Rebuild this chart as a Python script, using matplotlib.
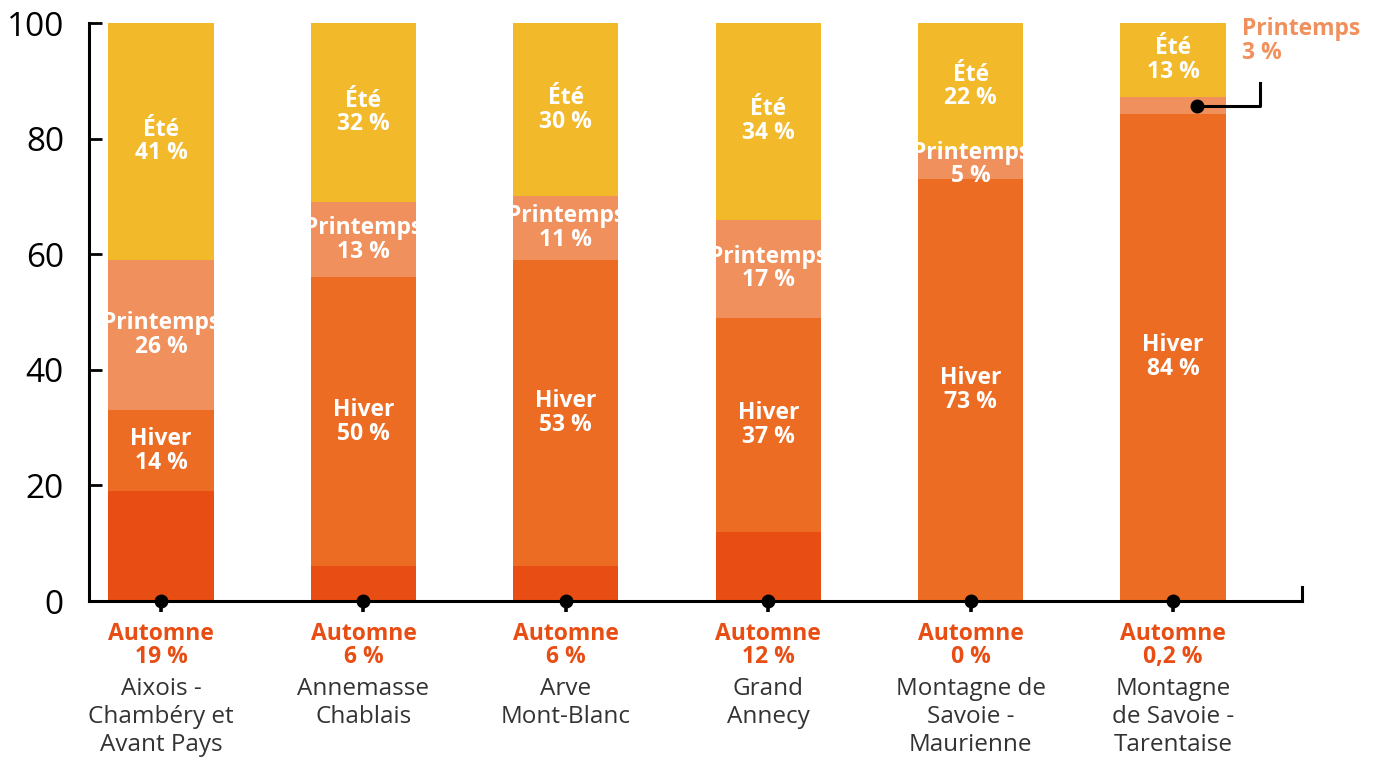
import matplotlib
matplotlib.use("Agg")
import matplotlib.pyplot as plt

categories = ["Aixois -\nChambéry et\nAvant Pays", "Annemasse\nChablais", "Arve\nMont-Blanc",
              "Grand\nAnnecy", "Montagne de\nSavoie -\nMaurienne", "Montagne\nde Savoie -\nTarentaise"]
automne = [19, 6, 6, 12, 0, 0.2]
hiver = [14, 50, 53, 37, 73, 84]
printemps = [26, 13, 11, 17, 5, 3]
ete = [41, 32, 30, 34, 22, 13]
automne_labels = ["19 %", "6 %", "6 %", "12 %", "0 %", "0,2 %"]
yticks = [0, 20, 40, 60, 80, 100]

C_AUT = "#E84E14"
C_HIV = "#EC6C24"
C_PRI = "#F0905C"
C_ETE = "#F2B92B"

BOLD = ["Open Sans", "DejaVu Sans"]
REG = ["Open Sans", "DejaVu Sans"]

fig = plt.figure(figsize=(13.79, 7.62), dpi=100)
ax = fig.add_axes([89/1379, 1-601/762, (1302-89)/1379, (601-23)/762])

x = list(range(len(categories)))
w = 0.52
b1 = automne
b2 = [a + h for a, h in zip(automne, hiver)]
b3 = [a + p for a, p in zip(b2, printemps)]
ax.bar(x, automne, w, color=C_AUT)
ax.bar(x, hiver, w, bottom=b1, color=C_HIV)
ax.bar(x, printemps, w, bottom=b2, color=C_PRI)
ax.bar(x, ete, w, bottom=b3, color=C_ETE)

ax.set_xlim(-0.356, 5.637)
ax.set_ylim(0, 100)

FS = 16.5
LS = 0.98

def inlabel(xi, y, name, val):
    ax.text(xi, y, f"{name}\n{val} %", ha="center", va="center", color="white",
            fontsize=FS, fontweight="bold", family=BOLD, linespacing=LS)

for i in x:
    inlabel(i, b1[i] + hiver[i] / 2, "Hiver", hiver[i])
    if i != 5:
        inlabel(i, b2[i] + printemps[i] / 2, "Printemps", printemps[i])
    inlabel(i, b3[i] + min(ete[i], 100 - b3[i]) / 2, "Été", ete[i])

# Tarentaise Printemps annotation
py = b2[5] + printemps[5] / 2
ax.plot([5.118, 5.43, 5.43], [py, py, 89.6], color="black", lw=2.2, clip_on=False, zorder=5)
ax.plot([5.118], [py], "o", color="black", ms=9, clip_on=False, zorder=6)
ax.text(5.34, 101, "Printemps\n3 %", ha="left", va="top", color=C_PRI,
        fontsize=FS, fontweight="bold", family=BOLD, linespacing=LS, clip_on=False)

# axes styling
for s in ["top", "right"]:
    ax.spines[s].set_visible(False)
ax.spines["left"].set_linewidth(2.2)
ax.spines["bottom"].set_linewidth(2.2)
ax.set_yticks(yticks)
ax.set_yticklabels([str(t) for t in yticks], fontsize=24, family=REG)
ax.tick_params(axis="y", direction="in", length=9, width=2, pad=18)
ax.set_xticks(x)
ax.set_xticklabels([""] * len(x))
ax.tick_params(axis="x", direction="out", length=8, width=2.6)

# right end tick
ax.plot([1, 1], [0, 0.025], transform=ax.transAxes, color="black", lw=2.2, clip_on=False)

# dots at bottom
ax.plot(x, [0] * len(x), "o", color="black", ms=9, clip_on=False, zorder=6)

# bottom labels
for i in x:
    ax.annotate(f"Automne\n{automne_labels[i]}", xy=(i, 0), xytext=(0, -15),
                textcoords="offset points", ha="center", va="top", color=C_AUT,
                fontsize=FS, fontweight="bold", family=BOLD, linespacing=LS,
                annotation_clip=False)
    ax.annotate(categories[i], xy=(i, 0), xytext=(0, -55),
                textcoords="offset points", ha="center", va="top", color="#333333",
                fontsize=17.5, family=REG, linespacing=1.2, annotation_clip=False)

fig.savefig("out.png", dpi=100)
